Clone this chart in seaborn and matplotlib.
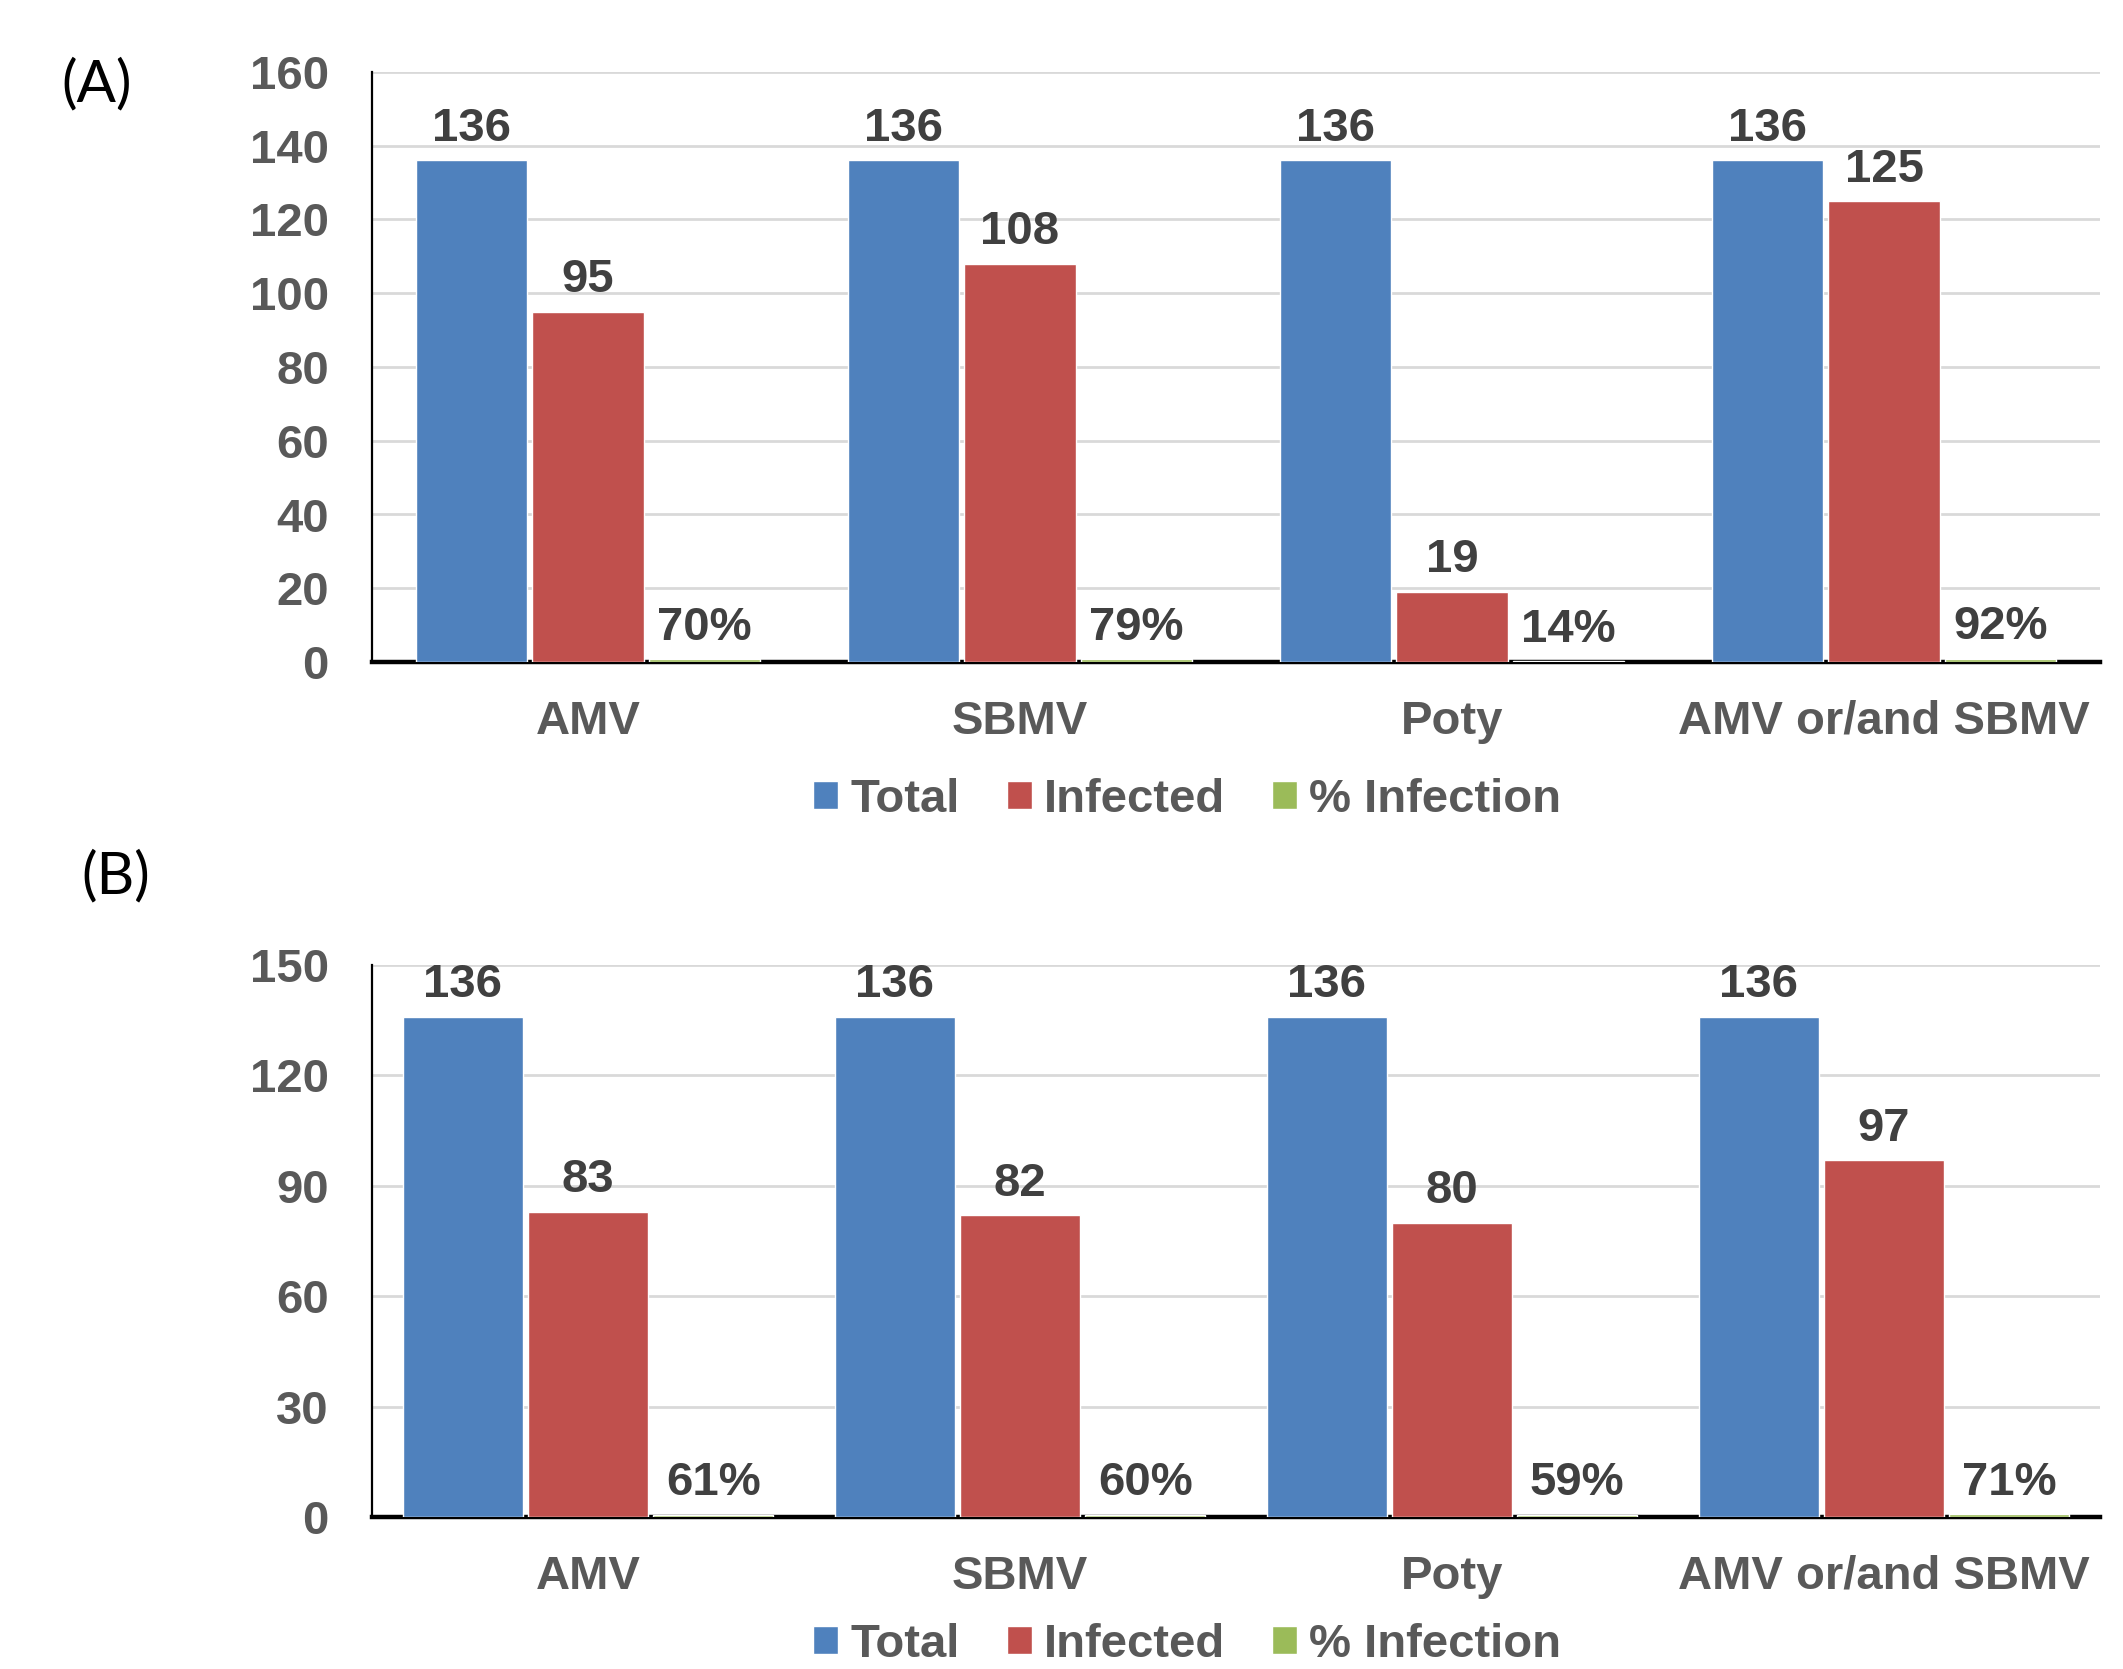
import matplotlib
matplotlib.use("Agg")
import matplotlib.pyplot as plt
import seaborn as sns
import pandas as pd

# Survey data: number of plants tested, number infected and infection rate
categories = ["AMV", "SBMV", "Poty", "AMV or/and SBMV"]
series = ["Total", "Infected", "% Infection"]

total_a = [136, 136, 136, 136]
infected_a = [95, 108, 19, 125]
pct_a = [0.70, 0.79, 0.14, 0.92]

total_b = [136, 136, 136, 136]
infected_b = [83, 82, 80, 97]
pct_b = [0.61, 0.60, 0.59, 0.71]

yticks_a = [0, 20, 40, 60, 80, 100, 120, 140, 160]
yticks_b = [0, 30, 60, 90, 120, 150]

colors = ["#4F81BD", "#C0504D", "#9BBB59"]

sns.set_theme(style="white")
plt.rcParams["font.family"] = ["Liberation Sans", "DejaVu Sans"]
plt.rcParams["font.weight"] = "bold"

TICK_GREY = "#595959"
LABEL_DARK = "#404040"
FS = 34

fig = plt.figure(figsize=(21.23, 16.69), dpi=100)
W, H = 2123, 1669


def add_panel(rect, total, infected, pct, yticks, bar_width, legend_y, tag, tag_xy):
    ax = fig.add_axes(rect)
    df = pd.DataFrame({
        "category": categories * 3,
        "series": [series[0]] * 4 + [series[1]] * 4 + [series[2]] * 4,
        "value": list(total) + list(infected) + list(pct),
    })
    sns.barplot(data=df, x="category", y="value", hue="series",
                order=categories, hue_order=series, palette=colors,
                saturation=1, width=bar_width, gap=0.045, ax=ax,
                errorbar=None)

    # bars sit on top of the baseline so the small % bars stay visible
    for container in ax.containers:
        for bar in container:
            bar.set_zorder(3)

    # value labels above each bar
    for container, vals, name in zip(ax.containers, [total, infected, pct], series):
        for bar, v in zip(container, vals):
            txt = f"{v:.0%}" if name == "% Infection" else f"{v}"
            ax.annotate(txt, (bar.get_x() + bar.get_width() / 2, bar.get_height()),
                        xytext=(0, 14), textcoords="offset points",
                        ha="center", va="baseline", fontsize=FS,
                        fontweight="bold", color=LABEL_DARK, zorder=4)

    ax.set_xlim(-0.5, len(categories) - 0.5)
    ax.set_ylim(yticks[0], yticks[-1])
    ax.set_yticks(yticks)
    ax.set_xlabel("")
    ax.set_ylabel("")
    ax.yaxis.grid(True, color="#D9D9D9", linewidth=2)
    ax.xaxis.grid(False)
    ax.set_axisbelow(True)
    for s in ["top", "right"]:
        ax.spines[s].set_visible(False)
    ax.spines["left"].set_color("black")
    ax.spines["left"].set_linewidth(1.6)
    ax.spines["bottom"].set_color("black")
    ax.spines["bottom"].set_linewidth(3.2)
    ax.spines["bottom"].set_zorder(2)
    ax.tick_params(axis="y", length=0, pad=31, labelsize=FS, labelcolor=TICK_GREY)
    ax.tick_params(axis="x", length=0, pad=27, labelsize=FS, labelcolor=TICK_GREY)
    for lab in ax.get_xticklabels() + ax.get_yticklabels():
        lab.set_fontweight("bold")

    sns.move_legend(ax, "center", bbox_to_anchor=(0.4717, legend_y), ncol=3,
                    frameon=False, title=None, fontsize=FS, labelcolor=TICK_GREY,
                    handlelength=0.53, handleheight=0.53, handletextpad=0.25,
                    columnspacing=1.0, borderaxespad=0)
    for t in ax.get_legend().get_texts():
        t.set_fontweight("bold")

    fig.text(tag_xy[0], tag_xy[1], tag, fontsize=42, fontweight="normal",
             family=["Lato", "DejaVu Sans"], color="black", ha="left", va="center")
    return ax


left = 372 / W
width = (2100 - 372) / W
add_panel([left, 1 - 662 / H, width, (662 - 72) / H],
          total_a, infected_a, pct_a, yticks_a, 0.81, -0.234,
          "(A)", (61 / W, 1 - 85 / H))
add_panel([left, 1 - 1517 / H, width, (1517 - 965) / H],
          total_b, infected_b, pct_b, yticks_b, 0.87, -0.232,
          "(B)", (81 / W, 1 - 877 / H))

fig.savefig("out.png", dpi=100, facecolor="white")
